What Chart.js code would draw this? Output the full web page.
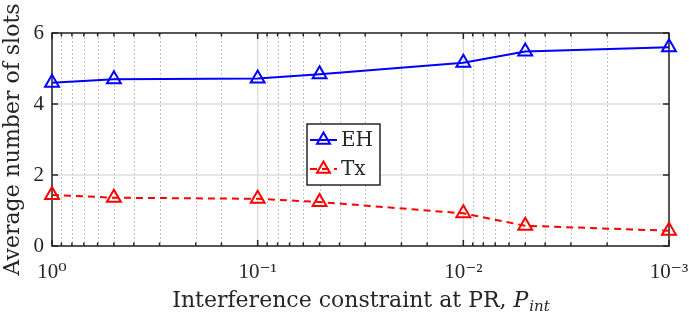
<!DOCTYPE html>
<html>
<head>
<meta charset="utf-8">
<script src="https://cdn.jsdelivr.net/npm/chart.js@4/dist/chart.umd.min.js"></script>
<style>
  html, body { margin: 0; padding: 0; background: #fff; }
</style>
</head>
<body>
<canvas id="chart" width="689" height="317"></canvas>
<script>
// datos
const xValues = [1, 0.5, 0.1, 0.05, 0.01, 0.005, 0.001];
const ehSlots = [4.6, 4.7, 4.72, 4.84, 5.16, 5.48, 5.6];
const txSlots = [1.44, 1.36, 1.33, 1.24, 0.92, 0.57, 0.43];
const seriesLabels = ['EH', 'Tx'];
const xDecades = [1, 0.1, 0.01, 0.001];
const xTickLabels = ['10⁰', '10⁻¹', '10⁻²', '10⁻³'];
const yTicks = [0, 2, 4, 6];

const FONT = '"Liberation Serif", "DejaVu Serif", serif';
const TEXT_FONT = '"DejaVu Serif", serif';
const AXIS_COLOR = '#262626';

function isDecade(v) {
    const l = Math.log10(v);
    return Math.abs(l - Math.round(l)) < 1e-9;
}

// rejilla, marco y marcas al estilo MATLAB
const framePlugin = {
    id: 'frame',
    beforeDatasetsDraw(chart) {
        const { ctx, chartArea: a, scales } = chart;
        const xs = scales.x, ys = scales.y;
        ctx.save();
        // rejilla menor punteada
        ctx.lineWidth = 1;
        ctx.strokeStyle = '#c4c4c4';
        ctx.setLineDash([2, 2]);
        xs.ticks.forEach(t => {
            if (isDecade(t.value)) return;
            const px = Math.round(xs.getPixelForValue(t.value)) + 0.5;
            ctx.beginPath();
            ctx.moveTo(px, a.top);
            ctx.lineTo(px, a.bottom);
            ctx.stroke();
        });
        // rejilla mayor
        ctx.setLineDash([]);
        ctx.strokeStyle = '#dedede';
        ctx.lineWidth = 1.5;
        xDecades.forEach(v => {
            const px = xs.getPixelForValue(v);
            ctx.beginPath();
            ctx.moveTo(px, a.top);
            ctx.lineTo(px, a.bottom);
            ctx.stroke();
        });
        yTicks.forEach(v => {
            const py = ys.getPixelForValue(v);
            ctx.beginPath();
            ctx.moveTo(a.left, py);
            ctx.lineTo(a.right, py);
            ctx.stroke();
        });
        // marcas
        ctx.strokeStyle = AXIS_COLOR;
        ctx.lineWidth = 1.5;
        xs.ticks.forEach(t => {
            const px = xs.getPixelForValue(t.value);
            const len = isDecade(t.value) ? 6 : 3.5;
            ctx.beginPath();
            ctx.moveTo(px, a.bottom);
            ctx.lineTo(px, a.bottom - len);
            ctx.moveTo(px, a.top);
            ctx.lineTo(px, a.top + len);
            ctx.stroke();
        });
        yTicks.forEach(v => {
            const py = ys.getPixelForValue(v);
            ctx.beginPath();
            ctx.moveTo(a.left, py);
            ctx.lineTo(a.left + 6, py);
            ctx.moveTo(a.right, py);
            ctx.lineTo(a.right - 6, py);
            ctx.stroke();
        });
        // marco
        ctx.strokeRect(a.left, a.top, a.right - a.left, a.bottom - a.top);
        ctx.restore();
    },
    afterDraw(chart) {
        const { ctx, chartArea: a } = chart;
        ctx.save();
        // título del eje x con P_int en cursiva
        const base = 'Interference constraint at PR, ';
        ctx.fillStyle = AXIS_COLOR;
        ctx.textBaseline = 'alphabetic';
        ctx.font = '22px ' + TEXT_FONT;
        const w1 = ctx.measureText(base).width;
        ctx.font = 'italic 22px ' + TEXT_FONT;
        const w2 = ctx.measureText('P').width;
        ctx.font = 'italic 15px ' + TEXT_FONT;
        const w3 = ctx.measureText('int').width;
        let x0 = (a.left + a.right) / 2 - (w1 + w2 + w3) / 2;
        const y0 = 307;
        ctx.textAlign = 'left';
        ctx.font = '22px ' + TEXT_FONT;
        ctx.fillText(base, x0, y0);
        ctx.font = 'italic 22px ' + TEXT_FONT;
        ctx.fillText('P', x0 + w1, y0);
        ctx.font = 'italic 15px ' + TEXT_FONT;
        ctx.fillText('int', x0 + w1 + w2 + 1, y0 + 4);

        // leyenda
        const lx = 307, ly = 124, lw = 73, lh = 61;
        ctx.fillStyle = '#fff';
        ctx.fillRect(lx, ly, lw, lh);
        ctx.strokeStyle = AXIS_COLOR;
        ctx.lineWidth = 1.5;
        ctx.strokeRect(lx, ly, lw, lh);
        chart.data.datasets.forEach((ds, i) => {
            const cy = ly + 16 + i * 29;
            ctx.strokeStyle = ds.borderColor;
            ctx.lineWidth = 2;
            ctx.setLineDash(ds.borderDash || []);
            ctx.beginPath();
            ctx.moveTo(lx + 3, cy);
            ctx.lineTo(lx + 30, cy);
            ctx.stroke();
            ctx.setLineDash([]);
            ctx.fillStyle = 'rgba(0,0,0,0)';
            Chart.helpers.drawPoint(ctx, {
                pointStyle: 'triangle', radius: 7.5, borderWidth: 2
            }, lx + 16.5, cy);
            ctx.fillStyle = AXIS_COLOR;
            ctx.font = '20px ' + TEXT_FONT;
            ctx.textBaseline = 'middle';
            ctx.fillText(ds.label, lx + 34, cy + 1);
        });
        ctx.restore();
    }
};

const ctx = document.getElementById('chart').getContext('2d');
new Chart(ctx, {
    type: 'line',
    data: {
        labels: xValues,
        datasets: [{
            label: seriesLabels[0],
            data: xValues.map((x, i) => ({ x: x, y: ehSlots[i] })),
            borderColor: '#0000ff',
            borderWidth: 2,
            pointStyle: 'triangle',
            pointRadius: 8,
            pointBorderWidth: 2,
            pointBorderColor: '#0000ff',
            pointBackgroundColor: 'rgba(0,0,0,0)',
            tension: 0,
            clip: false
        }, {
            label: seriesLabels[1],
            data: xValues.map((x, i) => ({ x: x, y: txSlots[i] })),
            borderColor: '#ff0000',
            borderWidth: 2,
            borderDash: [7, 5],
            pointStyle: 'triangle',
            pointRadius: 8,
            pointBorderWidth: 2,
            pointBorderColor: '#ff0000',
            pointBackgroundColor: 'rgba(0,0,0,0)',
            tension: 0,
            clip: false
        }]
    },
    options: {
        responsive: false,
        animation: false,
        devicePixelRatio: 1,
        layout: { padding: { top: 33, right: 20, left: 0, bottom: 0 } },
        plugins: {
            legend: { display: false },
            tooltip: { enabled: false }
        },
        scales: {
            x: {
                type: 'logarithmic',
                reverse: true,
                min: 0.001,
                max: 1,
                grid: { display: false },
                border: { display: false },
                afterFit(scale) {
                    scale.height = 71;
                    scale.paddingLeft = 0;
                    scale.paddingRight = 0;
                },
                ticks: {
                    autoSkip: false,
                    maxRotation: 0,
                    padding: 6,
                    color: AXIS_COLOR,
                    font: { family: FONT, size: 21 },
                    callback(v) {
                        const i = xDecades.findIndex(d => Math.abs(d - v) < d * 1e-6);
                        return i >= 0 ? xTickLabels[i] : '';
                    }
                }
            },
            y: {
                min: 0,
                max: 6,
                grid: { display: false, drawTicks: false },
                border: { display: false },
                afterFit(scale) { scale.width = 52; },
                ticks: {
                    stepSize: 2,
                    padding: 8,
                    color: AXIS_COLOR,
                    font: { family: FONT, size: 21 }
                },
                title: {
                    display: true,
                    text: 'Average number of slots',
                    color: AXIS_COLOR,
                    padding: 0,
                    font: { family: TEXT_FONT, size: 22 }
                }
            }
        }
    },
    plugins: [framePlugin]
});
</script>
</body>
</html>
